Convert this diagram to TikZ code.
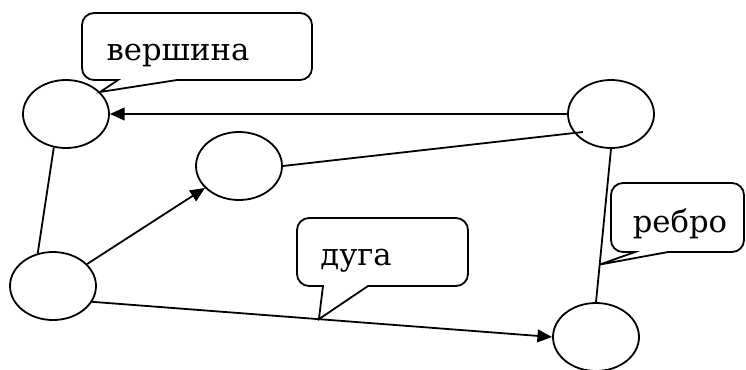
\documentclass[tikz,border=0pt]{standalone}
\usepackage{fontspec}
\newfontfamily\labelfont{DejaVu Serif}
\usetikzlibrary{shapes.geometric,arrows.meta,calc}

\begin{document}
\begin{tikzpicture}[x=0.75pt,y=-0.75pt,line width=1.35pt,
	vertex/.style={draw,ellipse,inner sep=0pt,minimum width=64.5pt,minimum height=51pt},
	arc/.style={-{Triangle[length=11pt,width=9.5pt]}},
	bubble/.style={draw,fill=white},
	bubbletext/.style={font=\labelfont\fontsize{23}{26}\selectfont,inner sep=0pt,anchor=base}]

    \useasboundingbox (0,0) rectangle (746,369);

    % vertices
    \node[vertex] (A) at (66,114) {};
    \node[vertex] (B) at (239,166) {};
    \node[vertex] (C) at (611,114) {};
    \node[vertex] (D) at (53,286) {};
    \node[vertex] (E) at (596,337) {};

    % arcs and edges
    \draw[arc] (C.west) -- (A.east);
    \draw[arc] (D) -- (B);
    \draw[arc] (D.-22) -- (E.west);
    \draw (B.east) -- ($(C.center)+(-28,18)$);
    \draw (A.-110) -- (D.115);
    \draw (C.south) -- (E.north);

    \coordinate (tipv) at (100,92);
    \coordinate (tipa) at ($(D.-22)!0.493!(E.west)$);
    \coordinate (tipe) at ($(C.south)!0.755!(E.north)$);

    % callouts
    \draw[bubble] (118,80) -- (tipv) -- (177,80)
       [rounded corners=9pt] -- (312,80) -- (312,13) -- (82,13) -- (82,80) [sharp corners] -- cycle;
    \node[bubbletext] (lv) at (178,60) {вершина};

    \draw[bubble] (323,286) -- (tipa) -- (368,286)
       [rounded corners=9pt] -- (468,286) -- (468,218) -- (297,218) -- (297,286) [sharp corners] -- cycle;
    \node[bubbletext] (la) at (356,265) {дуга};

    \draw[bubble] (635,252) -- (tipe) -- (668,252)
       [rounded corners=9pt] -- (744,252) -- (744,183) -- (611,183) -- (611,252) [sharp corners] -- cycle;
    \node[bubbletext] (le) at (680,232) {ребро};

\end{tikzpicture}
\end{document}
